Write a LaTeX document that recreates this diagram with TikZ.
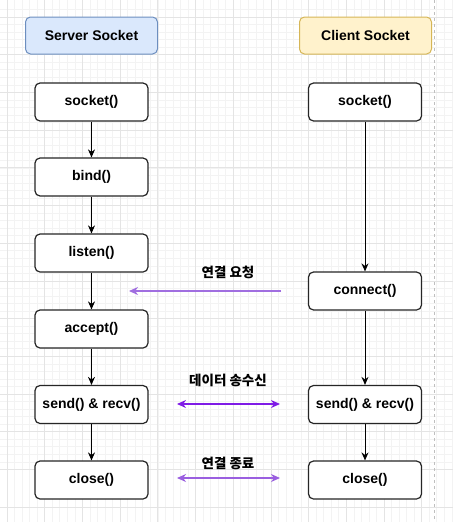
\documentclass[tikz,border=0pt]{standalone}
\usepackage{fontspec}
\setmainfont{Liberation Sans}
\newfontfamily\krfont{Noto Sans CJK KR}
\usetikzlibrary{arrows.meta}
\definecolor{blueF}{HTML}{DAE8FC}
\definecolor{blueS}{HTML}{6C8EBF}
\definecolor{yelF}{HTML}{FFF2CC}
\definecolor{yelS}{HTML}{D6B656}
\definecolor{gridMinor}{HTML}{F3F3F3}
\definecolor{gridMajor}{HTML}{E4E4E4}
\definecolor{purA}{HTML}{A06EE0}
\definecolor{purB}{HTML}{7F1BE6}
\definecolor{purC}{HTML}{9A5FE0}
\tikzset{
  header/.style={draw, rounded corners=5pt, line width=1pt, minimum width=132pt, minimum height=37pt, font=\fontsize{14}{16}\selectfont\bfseries, inner sep=0pt},
  func/.style={draw=black!85, fill=white, rounded corners=5pt, line width=1.2pt, minimum width=113pt, minimum height=38pt, font=\fontsize{14}{16}\selectfont\bfseries, inner sep=0pt},
  flow/.style={line width=1pt, -{Stealth[length=8pt,width=7pt]}},
  msg/.style={line width=1.4pt},
  lbl/.style={font=\krfont\bfseries\fontsize{13.5}{16}\selectfont, inner sep=0pt}
}
\begin{document}
\begin{tikzpicture}[x=1pt,y=-1pt]
\useasboundingbox (0,0) rectangle (453,522);
\fill[white] (0,0) rectangle (453,522);
% grid
\foreach \i in {-1,...,60} {
  \draw[gridMinor, line width=0.6pt] ({7+7.54*\i},0) -- ({7+7.54*\i},522);
  \draw[gridMinor, line width=0.6pt] (0,{17+7.54*\i}) -- (453,{17+7.54*\i});
}
\foreach \i in {0,...,12} {
  \draw[gridMajor, line width=0.8pt] ({7+37.7*\i},0) -- ({7+37.7*\i},522);
}
\foreach \i in {-1,...,14} {
  \draw[gridMajor, line width=0.8pt] (0,{17+37.7*\i}) -- (453,{17+37.7*\i});
}
\draw[black!25, dashed, dash pattern=on 3pt off 3pt, line width=0.8pt] (434,0) -- (434,522);

% headers
\node[header, fill=blueF, draw=blueS] (sh) at (91.5,35.5) {Server Socket};
\node[header, fill=yelF, draw=yelS] (ch) at (365.5,35.5) {Client Socket};

% server column
\node[func] (s1) at (91.5,102) {socket()};
\node[func] (s2) at (91.5,177) {bind()};
\node[func] (s3) at (91.5,253) {listen()};
\node[func] (s4) at (91.5,329) {accept()};
\node[func] (s5) at (91.5,404.5) {send() \& recv()};
\node[func] (s6) at (91.5,480) {close()};

% client column
\node[func] (c1) at (365,102) {socket()};
\node[func] (c2) at (365,291) {connect()};
\node[func] (c3) at (365,404.5) {send() \& recv()};
\node[func] (c4) at (365,480) {close()};

\draw[flow] (s1) -- (s2);
\draw[flow] (s2) -- (s3);
\draw[flow] (s3) -- (s4);
\draw[flow] (s4) -- (s5);
\draw[flow] (s5) -- (s6);
\draw[flow] (c1) -- (c2);
\draw[flow] (c2) -- (c3);
\draw[flow] (c3) -- (c4);

% messages
\coordinate (m1a) at (281,291);
\coordinate (m1b) at (129,291);
\draw[msg, purA, -{Stealth[length=9pt,width=8pt]}] (m1a) -- (m1b);
\node[lbl] (l1) at (228,272) {연결 요청};

\coordinate (m2a) at (177,404);
\coordinate (m2b) at (280,404);
\draw[msg, purB, {Stealth[length=9pt,width=8pt]}-{Stealth[length=9pt,width=8pt]}] (m2a) -- (m2b);
\node[lbl] (l2) at (228,380) {데이터 송수신};

\coordinate (m3a) at (177,478);
\coordinate (m3b) at (280,478);
\draw[msg, purC, {Stealth[length=9pt,width=8pt]}-{Stealth[length=9pt,width=8pt]}] (m3a) -- (m3b);
\node[lbl] (l3) at (228,463) {연결 종료};
\end{tikzpicture}
\end{document}
